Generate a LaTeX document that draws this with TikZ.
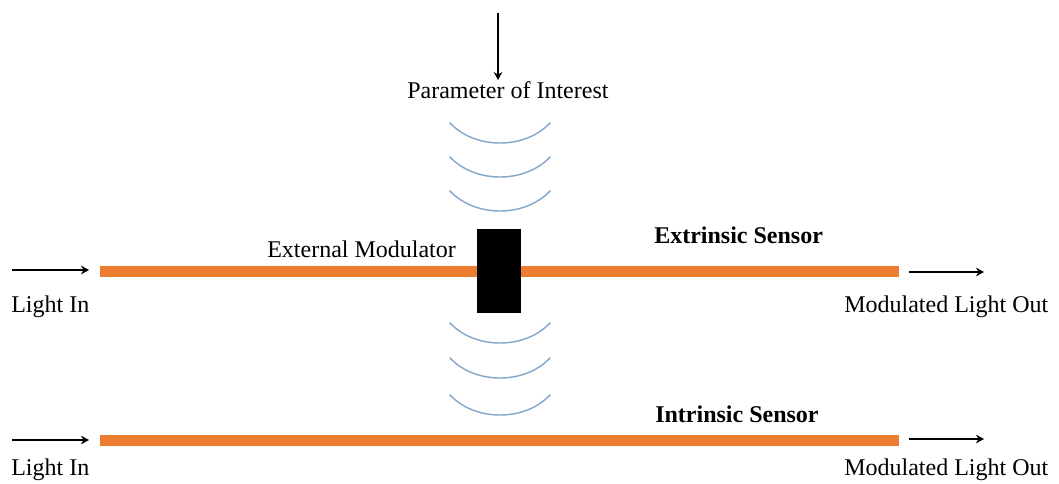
\documentclass[tikz,border=0pt]{standalone}
\usepackage{fontspec}
\setmainfont{Liberation Serif}
\usetikzlibrary{arrows.meta}
\definecolor{fiber}{RGB}{237,125,49}
\definecolor{wavecol}{RGB}{135,168,200}
\tikzset{
  lbl/.style={inner sep=0pt, anchor=base west, font=\fontsize{18}{22}\selectfont},
  blbl/.style={lbl, font=\fontsize{18}{22}\selectfont\bfseries},
  flow/.style={line width=1.9pt, -{Stealth[length=6pt,width=6.5pt]}},
  fiberline/.style={line width=8.25pt, fiber, line cap=butt},
  wave/.style={line width=1.1pt, wavecol, line cap=round},
}
\begin{document}
\begin{tikzpicture}[x=0.75pt,y=-0.75pt]
\useasboundingbox (0,0) rectangle (1059,484);
% top arrow and label
\coordinate (ptop) at (498,13);
\coordinate (pbot) at (498,80);
\draw[flow] (ptop) -- (pbot);
\node[lbl] (param) at (407,99) {Parameter of Interest};
% waves above
\foreach \y [count=\i] in {123,157,191} {
  \coordinate (wa\i) at (450,\y);
  \coordinate (wb\i) at (550,\y);
  \draw[wave] (wa\i) .. controls (475,\y+26.7) and (525,\y+26.7) .. (wb\i);
}
% waves below
\foreach \y [count=\i] in {323,358,395} {
  \coordinate (wc\i) at (450,\y);
  \coordinate (wd\i) at (550,\y);
  \draw[wave] (wc\i) .. controls (475,\y+26.7) and (525,\y+26.7) .. (wd\i);
}
% extrinsic fiber
\coordinate (f1a) at (100,271.5);
\coordinate (f1b) at (899,271.5);
\draw[fiberline] (f1a) -- (f1b);
\node[fill=black, minimum width=33pt, minimum height=63pt, inner sep=0pt] (mod) at (499,271) {};
\coordinate (in1a) at (12,270);
\coordinate (in1b) at (89,270);
\draw[flow] (in1a) -- (in1b);
\coordinate (out1a) at (909,272);
\coordinate (out1b) at (984,272);
\draw[flow] (out1a) -- (out1b);
\node[lbl] (lin1) at (11,312) {Light In};
\node[lbl] (lout1) at (844,313) {Modulated Light Out};
\node[lbl] (extmod) at (267,258) {External Modulator};
\node[blbl] (extsens) at (654,244) {Extrinsic Sensor};
% intrinsic fiber
\coordinate (f2a) at (100,440.5);
\coordinate (f2b) at (899,440.5);
\draw[fiberline] (f2a) -- (f2b);
\coordinate (in2a) at (12,440);
\coordinate (in2b) at (89,440);
\draw[flow] (in2a) -- (in2b);
\coordinate (out2a) at (909,439);
\coordinate (out2b) at (984,439);
\draw[flow] (out2a) -- (out2b);
\node[lbl] (lin2) at (11,475) {Light In};
\node[lbl] (lout2) at (844,475) {Modulated Light Out};
\node[blbl] (intsens) at (655,422) {Intrinsic Sensor};
\end{tikzpicture}
\end{document}
